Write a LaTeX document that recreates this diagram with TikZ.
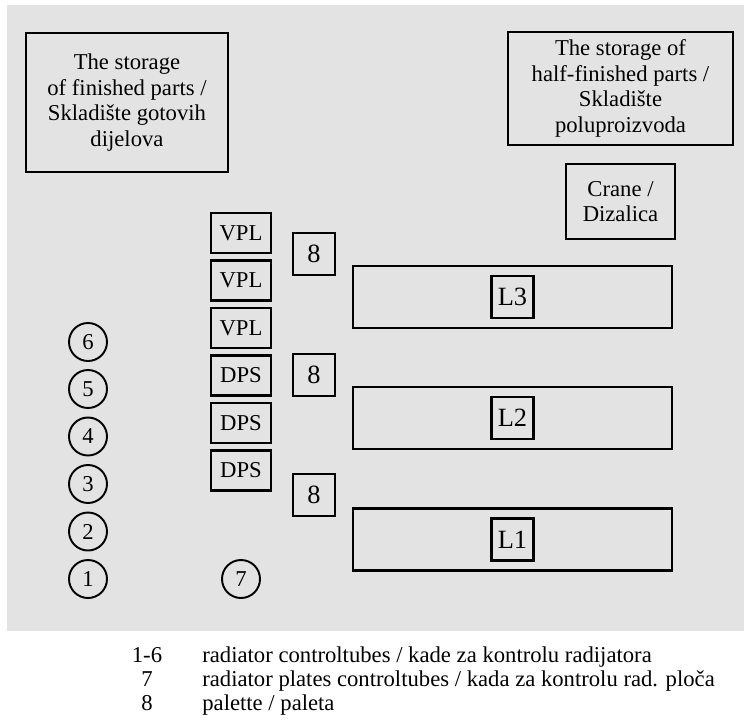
\documentclass[tikz,border=0pt]{standalone}
\usepackage{fontspec}
\setmainfont{Liberation Serif}

\tikzstyle{textonly}=[align=center, inner sep=0pt, font=\fontsize{12.9}{14.5}\selectfont]
\tikzstyle{store}=[textonly, rectangle, draw=black, line width=1.6pt]
\tikzstyle{unit}=[store, minimum width=1.2cm, minimum height=0.8cm]
\tikzstyle{palette}=[store, minimum size=0.84cm, font=\fontsize{15}{17}\selectfont]
\tikzstyle{line}=[store, minimum width=6.38cm, minimum height=1.24cm]
\tikzstyle{tube}=[textonly, circle, draw=black, line width=1.1pt, minimum size=0.76cm]
\tikzstyle{legend}=[textonly, anchor=base west]

\begin{document}
\begin{tikzpicture}
  \useasboundingbox (0,0) rectangle (14.9,-14.38);
  \fill [black!11] (0.14,-0.1) rectangle (14.88,-12.62);

  % Storages
  \node (finished) [store, minimum width=4.04cm, minimum height=2.78cm] at (2.54,-2.05) {The storage\\of finished parts /\\Skladište gotovih\\dijelova};
  \node (halffinished) [store, minimum width=4.5cm, minimum height=2.26cm] at (12.41,-1.77) {The storage of\\half-finished parts /\\Skladište\\poluproizvoda};
  \node (crane) [store, minimum width=2.18cm, minimum height=1.5cm] at (12.41,-4.03) {Crane /\\Dizalica};

  % Control units
  \node (vpla) [unit] at (4.82,-4.66) {VPL};
  \node (vplb) [unit] at (4.82,-5.61) {VPL};
  \node (vplc) [unit] at (4.82,-6.56) {VPL};
  \node (dpsa) [unit] at (4.82,-7.51) {DPS};
  \node (dpsb) [unit] at (4.82,-8.46) {DPS};
  \node (dpsc) [unit] at (4.82,-9.41) {DPS};

  % Palettes
  \node (palc) [palette] at (6.28,-5.08) {8};
  \node (palb) [palette] at (6.28,-7.5) {8};
  \node (pala) [palette] at (6.28,-9.9) {8};

  % Lines
  \node (linec) [line] at (10.25,-5.94) {};
  \node (lineb) [line] at (10.25,-8.36) {};
  \node (linea) [line] at (10.25,-10.79) {};
  \node (lbc) [palette] at (linec) {L3};
  \node (lbb) [palette] at (lineb) {L2};
  \node (lba) [palette] at (linea) {L1};

  % Control tubes
  \node (tubef) [tube] at (1.76,-6.84) {6};
  \node (tubee) [tube] at (1.76,-7.78) {5};
  \node (tubed) [tube] at (1.76,-8.73) {4};
  \node (tubec) [tube] at (1.76,-9.68) {3};
  \node (tubeb) [tube] at (1.76,-10.63) {2};
  \node (tubea) [tube] at (1.76,-11.58) {1};
  \node (plates) [tube] at (4.82,-11.58) {7};

  % Legend
  \node (keya) [textonly, anchor=base] at (2.94,-13.24) {1-6};
  \node (keyb) [textonly, anchor=base] at (2.94,-13.72) {7};
  \node (keyc) [textonly, anchor=base] at (2.94,-14.2) {8};
  \node (texta) [legend] at (4.04,-13.24) {radiator controltubes / kade za kontrolu radijatora};
  \node (textb) [legend] at (4.04,-13.72) {radiator plates controltubes / kada za kontrolu rad. ploča};
  \node (textc) [legend] at (4.04,-14.2) {palette / paleta};
\end{tikzpicture}
\end{document}
